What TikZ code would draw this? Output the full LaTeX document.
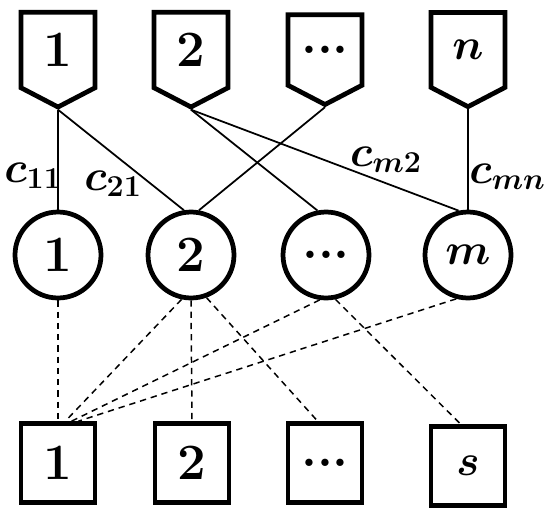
\documentclass[tikz,border=0pt]{standalone}
\usepackage{bm}
\usetikzlibrary{shapes.symbols}
\tikzset{
    net/.style={x=0.02cm, y=-0.02cm, font=\fontsize{29}{33}\selectfont\bfseries},
    source/.style={draw, line width=2.7pt, signal, signal to=south, signal pointer angle=125,
        minimum width=1.48cm, minimum height=1.66cm, inner sep=0pt},
    hub/.style={draw, circle, line width=2.7pt, minimum size=1.72cm, inner sep=0pt},
    sink/.style={draw, line width=2.7pt, minimum width=1.48cm, minimum height=1.58cm, inner sep=0pt},
    link/.style={line width=1pt},
    route/.style={line width=0.85pt, dash pattern=on 3.6pt off 2.8pt},
    % cost labels sit next to the solid links
    cost/.style={inner sep=0pt, font=\fontsize{27}{31}\selectfont},
}

\begin{document}
\begin{tikzpicture}[net]
        \useasboundingbox (0,0) rectangle (550,517);

        \node[source] (src1) at (58,50)  {1};
        \node[source] (src2) at (191,50) {2};
        \node[source] (src3) at (325,50) {...};
        \node[source] (srcn) at (468,50) {$\bm{n}$};

        \node[hub] (hub1) at (58,255)  {1};
        \node[hub] (hub2) at (191,255) {2};
        \node[hub] (hub3) at (326,255) {...};
        \node[hub] (hubm) at (468,255) {$\bm{m}$};

        \node[sink] (snk1) at (58,463)  {1};
        \node[sink] (snk2) at (192,463) {2};
        \node[sink] (snk3) at (325,463) {...};
        \node[sink] (snks) at (468,466) {$\bm{s}$};

        \draw[link] (src1.south) -- (hub1.north);
        \draw[link] (src1.south) -- (hub2.99);
        \draw[link] (src2.south) -- (hub3.101);
        \draw[link] (src2.south) -- (hubm.102);
        \draw[link] (src3.south) -- (hub2.80);
        \draw[link] (srcn.south) -- (hubm.north);

        \node[cost] (c11) at (33,176) {$\bm{c}_{\bm{11}}$};
        \node[cost] (c21) at (113,184) {$\bm{c}_{\bm{21}}$};
        \node[cost] (cm2) at (386,160) {$\bm{c}_{\bm{m2}}$};
        \node[cost, anchor=east] (cmn) at (546,177) {$\bm{c}_{\bm{mn}}$};

        \draw[route] (hub1.south) -- (snk1.north);
        \draw[route] (hub2.258) -- (snk1.80);
        \draw[route] (hub2.south) -- (snk2.north);
        \draw[route] (hub2.290) -- (snk3.100);
        \draw[route] (hub3.262) -- (snk1.72);
        \draw[route] (hub3.282) -- (snks.100);
        \draw[route] (hubm.255) -- (snk1.64);
\end{tikzpicture}
\end{document}
